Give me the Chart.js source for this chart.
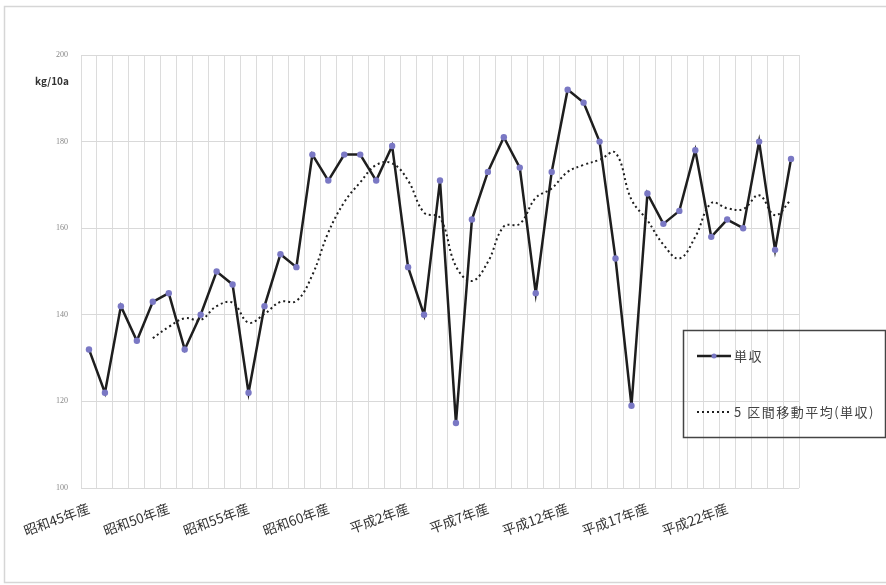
<!DOCTYPE html>
<html>
<head>
<meta charset="utf-8">
<script src="https://cdn.jsdelivr.net/npm/chart.js@4"></script>
<style>
  body { margin: 0; background: #fff; }
  #wrap { width: 886px; height: 585px; }
</style>
</head>
<body>
<div id="wrap"><canvas id="yieldChart" width="886" height="585"></canvas></div>
<script>
// Years 昭和45 (1970) .. 平成26 (2014)
const categories = [
  '昭和45年産', '昭和46年産', '昭和47年産', '昭和48年産', '昭和49年産',
  '昭和50年産', '昭和51年産', '昭和52年産', '昭和53年産', '昭和54年産',
  '昭和55年産', '昭和56年産', '昭和57年産', '昭和58年産', '昭和59年産',
  '昭和60年産', '昭和61年産', '昭和62年産', '昭和63年産', '平成元年産',
  '平成2年産', '平成3年産', '平成4年産', '平成5年産', '平成6年産',
  '平成7年産', '平成8年産', '平成9年産', '平成10年産', '平成11年産',
  '平成12年産', '平成13年産', '平成14年産', '平成15年産', '平成16年産',
  '平成17年産', '平成18年産', '平成19年産', '平成20年産', '平成21年産',
  '平成22年産', '平成23年産', '平成24年産', '平成25年産', '平成26年産'
];

// 単収 (kg/10a)
const yieldValues = [
  132, 122, 142, 134, 143, 145, 132, 140, 150, 147,
  122, 142, 154, 151, 177, 171, 177, 177, 171, 179,
  151, 140, 171, 115, 162, 173, 181, 174, 145, 173,
  192, 189, 180, 153, 119, 168, 161, 164, 178, 158,
  162, 160, 180, 155, 176
];

// 5区間移動平均 (単収)
const movingAvg = [
  null, null, null, null, 134.6, 137.2, 139.2, 138.8, 142, 142.8,
  138.2, 140.2, 143, 143.2, 149.2, 159, 166, 170.6, 174.6, 175,
  171, 163.6, 162.4, 151.2, 147.8, 152.2, 160.4, 161, 167, 169.2,
  173, 174.6, 175.8, 177.4, 166.6, 161.8, 156.2, 153, 158, 165.8,
  164.6, 164.4, 167.6, 163, 166.6
];

const yTicks = [100, 120, 140, 160, 180, 200];
const seriesNames = ['単収', '5 区間移動平均(単収)'];
const unitLabel = 'kg/10a';

const FONT = '"Noto Sans CJK JP", "Noto Sans", sans-serif';

// frame, unit label and the boxed legend, drawn like the spreadsheet chart
const decorations = {
  id: 'decorations',
  beforeDraw(chart) {
    const ctx = chart.ctx;
    ctx.save();
    ctx.fillStyle = '#fff';
    ctx.fillRect(0, 0, chart.width, chart.height);
    ctx.strokeStyle = '#d6d6d6';
    ctx.lineWidth = 1.5;
    ctx.strokeRect(4.5, 6.5, 890, 576);
    ctx.restore();
  },
  afterDraw(chart) {
    const ctx = chart.ctx;
    ctx.save();
    ctx.fillStyle = '#333';
    ctx.font = 'bold 10px ' + FONT;
    ctx.textAlign = 'left';
    ctx.textBaseline = 'middle';
    ctx.fillText(unitLabel, 35, 81);

    // legend box
    ctx.strokeStyle = '#444';
    ctx.lineWidth = 1.5;
    ctx.strokeRect(683.5, 330.5, 202, 107);

    const ds0 = chart.data.datasets[0];
    const ds1 = chart.data.datasets[1];
    // entry 1: solid line with marker
    ctx.strokeStyle = ds0.borderColor;
    ctx.lineWidth = ds0.borderWidth;
    ctx.beginPath();
    ctx.moveTo(697, 356);
    ctx.lineTo(731, 356);
    ctx.stroke();
    ctx.fillStyle = ds0.pointBackgroundColor;
    ctx.beginPath();
    ctx.arc(714, 356, 2.5, 0, Math.PI * 2);
    ctx.fill();
    // entry 2: dotted
    ctx.strokeStyle = ds1.borderColor;
    ctx.lineWidth = ds1.borderWidth;
    ctx.setLineDash(ds1.borderDash);
    ctx.beginPath();
    ctx.moveTo(697, 412);
    ctx.lineTo(731, 412);
    ctx.stroke();
    ctx.setLineDash([]);

    ctx.fillStyle = '#444';
    ctx.font = '13px ' + FONT;
    ctx.letterSpacing = '1.5px';
    ctx.fillText(seriesNames[0], 734, 356);
    ctx.fillText(seriesNames[1], 734, 412);
    ctx.restore();
  }
};

const ctx = document.getElementById('yieldChart').getContext('2d');
new Chart(ctx, {
  type: 'line',
  data: {
    labels: categories,
    datasets: [{
      label: seriesNames[0],
      data: yieldValues,
      borderColor: '#1e1e1e',
      borderWidth: 2.5,
      pointRadius: 3.2,
      pointBorderWidth: 0,
      pointBackgroundColor: '#7a78c4',
      pointBorderColor: '#7a78c4',
      tension: 0,
      order: 1
    }, {
      label: seriesNames[1],
      data: movingAvg,
      borderColor: '#1e1e1e',
      borderWidth: 2,
      borderDash: [2, 3],
      pointRadius: 0,
      tension: 0.4,
      spanGaps: false,
      order: 2
    }]
  },
  options: {
    responsive: false,
    animation: false,
    layout: { padding: { left: 0, right: 87, top: 55, bottom: 0 } },
    plugins: {
      legend: { display: false },
      tooltip: { enabled: false }
    },
    scales: {
      x: {
        offset: true,
        grid: { offset: true, color: '#dcdcdc', lineWidth: 1, drawTicks: false },
        border: { display: false },
        ticks: {
          autoSkip: false,
          minRotation: 20,
          maxRotation: 20,
          padding: 12,
          color: '#333',
          font: { family: FONT, size: 13.5 },
          callback: (v, i) => (i % 5 === 0 ? categories[i] : '')
        },
        afterFit(scale) { scale.height = 97; }
      },
      y: {
        min: 100,
        max: 200,
        afterBuildTicks(scale) { scale.ticks = yTicks.map(v => ({ value: v })); },
        grid: { color: '#d9d9d9', lineWidth: 1, drawTicks: false },
        border: { display: false },
        ticks: {
          padding: 13,
          color: '#888',
          font: { family: 'Liberation Serif, serif', size: 8 }
        },
        afterFit(scale) { scale.width = 81; }
      }
    }
  },
  plugins: [decorations]
});
</script>
</body>
</html>
